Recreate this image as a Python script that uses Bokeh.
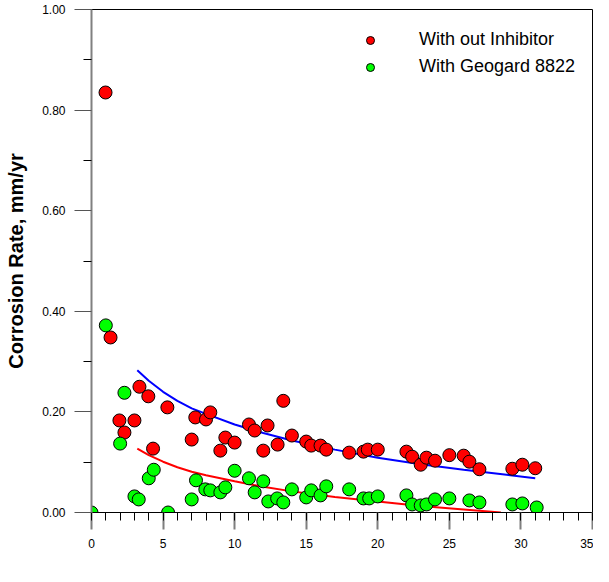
from bokeh.plotting import figure
from bokeh.models import FixedTicker, Legend, LegendItem, Label, ColumnDataSource
from bokeh.embed import file_html
from bokeh.resources import INLINE

# ---- data ----
red_days = [0.98, 1.33, 1.95, 2.3, 3.0, 3.35, 3.97, 4.3, 5.3, 7.0, 7.25, 8.0, 8.3, 9.0, 9.35,
            10.0, 11.0, 11.4, 12.0, 12.3, 13.0, 13.4, 14.0, 15.0, 15.35, 16.0, 16.4, 18.0, 19.0,
            19.3, 20.0, 22.0, 22.4, 23.0, 23.4, 24.0, 25.0, 26.0, 26.4, 27.1, 29.4, 30.1, 31.0]
red_rate = [0.835, 0.348, 0.183, 0.159, 0.183, 0.250, 0.231, 0.127, 0.209, 0.145, 0.189, 0.185,
            0.199, 0.123, 0.149, 0.139, 0.175, 0.163, 0.123, 0.173, 0.135, 0.222, 0.153, 0.141,
            0.133, 0.133, 0.125, 0.119, 0.121, 0.125, 0.125, 0.121, 0.111, 0.095, 0.109, 0.103,
            0.114, 0.113, 0.101, 0.086, 0.087, 0.095, 0.088]

green_days = [0.0, 1.0, 2.0, 2.3, 3.0, 3.3, 4.0, 4.35, 5.35, 7.0, 7.3, 7.95, 8.3, 9.0, 9.35,
              10.0, 11.0, 11.4, 12.0, 12.35, 12.97, 13.4, 14.0, 15.0, 15.35, 16.0, 16.4, 18.0,
              19.0, 19.4, 20.0, 22.0, 22.4, 23.0, 23.4, 24.0, 25.0, 26.4, 27.1, 29.4, 30.1, 31.1]
green_rate = [0.0, 0.372, 0.137, 0.238, 0.032, 0.026, 0.068, 0.085, 0.0, 0.026, 0.064, 0.046,
              0.044, 0.040, 0.050, 0.083, 0.068, 0.040, 0.062, 0.022, 0.028, 0.020, 0.046, 0.030,
              0.044, 0.034, 0.052, 0.046, 0.028, 0.028, 0.032, 0.034, 0.016, 0.014, 0.016, 0.026,
              0.028, 0.024, 0.020, 0.016, 0.018, 0.010]

# fitted trend curves
blue_fit_days = [3.2, 4, 5, 6, 7, 8, 10, 12, 14, 17, 20, 23, 26, 29, 31]
blue_fit_rate = [0.283, 0.262, 0.240, 0.222, 0.207, 0.196, 0.175, 0.158, 0.143, 0.125, 0.109,
                 0.096, 0.085, 0.075, 0.068]
red_fit_days = [3.2, 4, 5, 6, 7, 8, 10, 12, 14, 17, 20, 23, 26, 28.6]
red_fit_rate = [0.127, 0.114, 0.101, 0.090, 0.081, 0.074, 0.062, 0.051, 0.042, 0.031, 0.022,
                0.013, 0.006, 0.0]

x_ticks = [0, 5, 10, 15, 20, 25, 30, 35]
x_minor = [d for d in range(0, 36)]
y_ticks = [0.0, 0.2, 0.4, 0.6, 0.8, 1.0]
y_tick_labels = ["0.00", "0.20", "0.40", "0.60", "0.80", "1.00"]
y_minor = [0.1, 0.3, 0.5, 0.7, 0.9]

series_labels = ["With out Inhibitor", "With Geogard 8822"]
x_title = "DAYS"
y_title = "Corrosion Rate, mm/yr"

FONT = "Liberation Sans"

p = figure(width=593, height=566, x_range=(0, 35), y_range=(0, 1.0),
           output_backend="svg", toolbar_location=None,
           min_border_left=91, min_border_right=1, min_border_top=9, min_border_bottom=54)

p.xgrid.visible = False
p.ygrid.visible = False
p.outline_line_color = "black"
p.outline_line_width = 1
p.background_fill_color = "white"
p.border_fill_color = "white"

# curves (under markers)
p.line(blue_fit_days, blue_fit_rate, line_color="#0000FF", line_width=2)
p.line(red_fit_days, red_fit_rate, line_color="#FF0000", line_width=2)

r_red = p.scatter(red_days, red_rate, size=13, fill_color="#FF0000", line_color="black", line_width=1)
r_green = p.scatter(green_days, green_rate, size=13, fill_color="#00FF00", line_color="black", line_width=1)

# x axis
xa = p.xaxis[0]
xa.ticker = FixedTicker(ticks=x_ticks, minor_ticks=x_minor)
xa.axis_line_color = "black"
xa.axis_line_width = 1
xa.major_tick_in = 0
xa.major_tick_out = 17
xa.minor_tick_in = 0
xa.minor_tick_out = 8
xa.major_tick_line_color = "#7f7f7f"
xa.major_tick_line_width = 2
xa.minor_tick_line_color = "black"
xa.major_label_text_font = FONT
xa.major_label_text_font_size = "12px"
xa.major_label_text_color = "black"
xa.major_label_standoff = 9

# y axis
ya = p.yaxis[0]
ya.ticker = FixedTicker(ticks=y_ticks, minor_ticks=y_minor)
ya.major_label_overrides = {t: l for t, l in zip(y_ticks, y_tick_labels)}
ya.axis_line_color = "#808080"
ya.axis_line_width = 2
ya.major_tick_in = 0
ya.major_tick_out = 17
ya.minor_tick_in = 0
ya.minor_tick_out = 8
ya.major_tick_line_color = "#555555"
ya.major_tick_line_width = 1
ya.minor_tick_line_color = "black"
ya.major_label_text_font = FONT
ya.major_label_text_font_size = "12px"
ya.major_label_text_color = "black"
ya.major_label_standoff = 9
ya.axis_label = y_title
ya.axis_label_text_font = FONT
ya.axis_label_text_font_size = "20px"
ya.axis_label_text_font_style = "bold"
ya.axis_label_text_color = "black"
ya.axis_label_standoff = 12

# x title as a label under the axis
p.add_layout(Label(x=17.5, y=0, y_offset=-44, text=x_title, text_align="center",
                   text_baseline="middle", text_font=FONT, text_font_size="20px",
                   text_font_style="bold", text_color="black"))

legend = Legend(items=[LegendItem(label=series_labels[0], renderers=[r_red]),
                       LegendItem(label=series_labels[1], renderers=[r_green])],
                location=(269, 435), orientation="vertical")
legend.border_line_color = None
legend.background_fill_alpha = 0
legend.padding = 0
legend.margin = 0
legend.spacing = 6
legend.glyph_width = 20
legend.glyph_height = 20
legend.label_height = 20
legend.label_standoff = 39
legend.label_text_font = FONT
legend.label_text_font_size = "18px"
legend.label_text_color = "black"
legend.label_text_baseline = "middle"
p.add_layout(legend)

open("out.html", "w").write(file_html(p, INLINE))
